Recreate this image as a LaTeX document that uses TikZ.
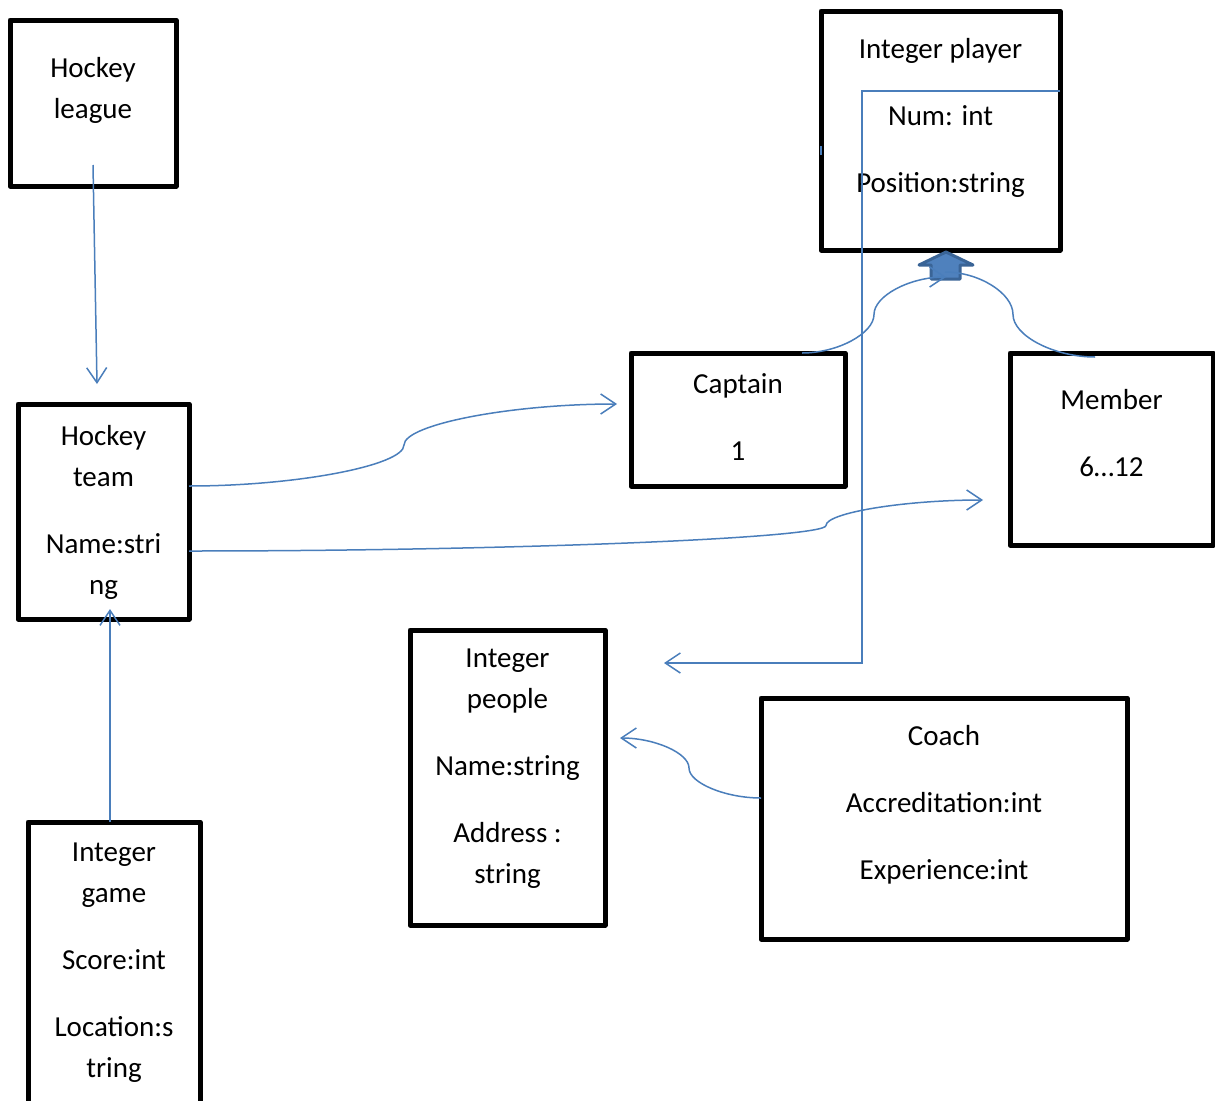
\documentclass[tikz,border=0pt]{standalone}
\usepackage{fontspec}
\setmainfont{Carlito}
\usetikzlibrary{arrows.meta,positioning}
\definecolor{ink}{HTML}{000000}
\definecolor{link}{HTML}{4A7EBB}
\definecolor{fillblue}{HTML}{4F81BD}
\definecolor{edgeblue}{HTML}{3A6496}
\tikzset{
  box/.style={draw=ink, line width=5pt, line join=round, outer sep=0pt, inner sep=0pt},
  txt/.style={align=center, inner sep=0pt, font=\fontsize{29}{41}\selectfont},
  conn/.style={draw=link, line width=1.5pt},
  barb/.style={-{Straight Barb[length=15pt,width=20pt]}},
  fat/.style={fill=fillblue, draw=edgeblue, line width=3pt, line join=round},
}

\begin{document}
\begin{tikzpicture}[x=1pt,y=-1pt]
  \useasboundingbox (0,0) rectangle (1215,1100);
  % boxes
  \node[box, minimum width=166pt, minimum height=166pt] (league)  at (93,103) {};
  \node[box, minimum width=171pt, minimum height=215pt] (team)    at (103.5,511.5) {};
  \node[box, minimum width=172pt, minimum height=298pt] (game)    at (114,971) {};
  \node[box, minimum width=239pt, minimum height=239pt] (player)  at (940.5,130.5) {};
  \node[box, minimum width=214pt, minimum height=133pt] (captain) at (738,419.5) {};
  \node[box, minimum width=203pt, minimum height=192pt] (member)  at (1111.5,449) {};
  \node[box, minimum width=195pt, minimum height=295pt] (people)  at (507.5,777.5) {};
  \node[box, minimum width=366pt, minimum height=241pt] (coach)   at (944,818.5) {};
  % texts
  \node[txt, below=37pt of league.north]  (leagueTxt)  {Hockey\\league};
  \node[txt, below=21pt of team.north]    (teamTxt)    {Hockey\\team\\[26pt]Name:stri\\ng};
  \node[txt, below=21pt of game.north]    (gameTxt)    {Integer\\game\\[26pt]Score:int\\[26pt]Location:s\\tring};
  \node[txt, below=27pt of player.north]  (playerTxt)  {Integer player\\[26pt]Num: int\\[26pt]Position:string};
  \node[txt, below=20pt of captain.north] (captainTxt) {Captain\\[26pt]1};
  \node[txt, below=36pt of member.north]  (memberTxt)  {Member\\[26pt]6…12};
  \node[txt, below=19pt of people.north]  (peopleTxt)  {Integer\\people\\[26pt]Name:string\\[26pt]Address :\\string};
  \node[txt, below=27pt of coach.north]   (coachTxt)   {Coach\\[26pt]Accreditation:int\\[26pt]Experience:int};
  % end points
  \coordinate (apex) at ([xshift=5.5pt,yshift=-2pt]player.south);
  \coordinate (capEnd) at ([xshift=5.5pt,yshift=-27pt]player.south);
  \coordinate (memEnd) at ([xshift=4.5pt,yshift=-22pt]player.south);
  \coordinate (k1) at (404,445);
  \coordinate (k2) at (826,525.5);
  \coordinate (k3) at (874,314.5);
  \coordinate (k4) at (1013,314.5);
  \coordinate (k5) at (689,768);
  \coordinate (elbow) at (862,663);
  % block arrow
  \draw[fat] (apex) -- ++(-27,13) -- ++(12,0) -- ++(0,14) -- ++(29,0) -- ++(0,-14) -- ++(13,0) -- cycle;
  % connectors
  \draw[conn,barb] ([yshift=21pt]league.south) -- ([xshift=-6.5pt,yshift=20pt]team.north);
  \draw[conn,barb] ([xshift=-4pt]game.north) -- ([xshift=6.5pt,yshift=10pt]team.south);
  \draw[conn,barb] ([yshift=25.5pt]team.east) .. controls +(107,0) and +(0,20.5) .. (k1)
    .. controls +(0,-20.5) and +(-106.5,0) .. ([xshift=-14pt,yshift=15.5pt]captain.west);
  \draw[conn,barb] ([yshift=-39.5pt]team.east) .. controls +(318,0) and +(0,12.75) .. (k2)
    .. controls +(0,-12.75) and +(-78.5,0) .. ([xshift=-27pt,yshift=-51pt]member.west);
  \draw[conn,barb] ([xshift=64pt]captain.north) .. controls +(36,0) and +(0,18.75) .. (k3)
    .. controls +(0,-18.75) and +(-36,0) .. (capEnd);
  \draw[conn] ([xshift=-16.5pt,yshift=-4pt]member.north) .. controls +(-41,0) and +(0,21.25) .. (k4)
    .. controls +(0,-21.25) and +(34,0) .. (memEnd);
  \draw[conn,barb] ([yshift=20.5pt]coach.west) .. controls +(-35.5,0) and +(0,15) .. (k5)
    .. controls +(0,-15) and +(34.5,0) .. ([xshift=15pt,yshift=39.5pt]people.east);
  \draw[conn,barb] ([yshift=39.5pt]player.east) -| (elbow) -- ([xshift=59pt,yshift=114.5pt]people.east);
  \draw[conn] ([yshift=-15.5pt]player.west) -- ++(0,9);
\end{tikzpicture}
\end{document}
